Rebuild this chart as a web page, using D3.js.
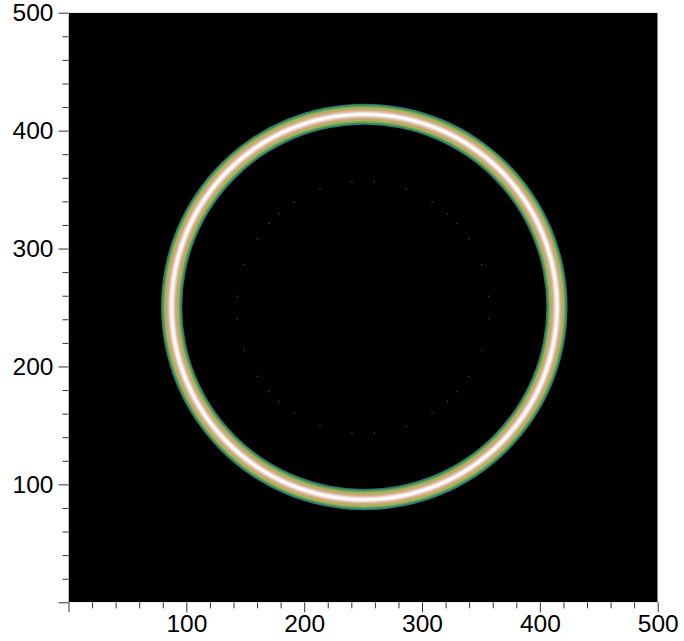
<!DOCTYPE html>
<html>
<head>
<meta charset="utf-8">
<script src="https://cdn.jsdelivr.net/npm/d3@7"></script>
<style>
  html, body { margin: 0; padding: 0; background: #fff; }
  svg { display: block; }
  .tick text { font-family: "Liberation Sans", Arial, Helvetica, sans-serif; font-size: 24.5px; fill: #000; }
</style>
</head>
<body>
<svg id="chart" width="684" height="641"></svg>
<script>
// ---- data ----
const xDomain = [0, 500];
const yDomain = [0, 500];
const majorTicks = [0, 100, 200, 300, 400, 500];
const tickLabels = ["", "100", "200", "300", "400", "500"];
const minorTicks = [20, 40, 60, 80, 120, 140, 160, 180, 220, 240, 260, 280, 320, 340, 360, 380, 420, 440, 460, 480];

// ring: centre and radial intensity profile (value 0..1 per 1-unit annulus)
const ringCenter = [251, 250.5];
const ringRadii  = [155, 156, 157, 158, 159, 160, 161, 162, 163, 164, 165, 166, 167, 168, 169, 170, 171, 172];
const ringValues = [0.25, 0.42, 0.55, 0.68, 0.76, 0.82, 0.88, 0.95, 1.0, 1.0, 0.95, 0.88, 0.82, 0.76, 0.68, 0.55, 0.42, 0.25];
const backgroundValue = 0;

// faint inner dots (polar angle in degrees, common radius)
const dotRadius = 107;
const dotValue = 0.2;
const dotCenter = [250, 250];
const dotAngles = [5.1, 19.9, 33.1, 41.8, 48, 56.8, 70, 84.9, 95.1, 110, 123.2, 132, 138.2, 146.9, 160.1, 174.9,
                   185.1, 199.9, 213.1, 221.8, 228, 236.8, 250, 264.9, 275.1, 290, 303.2, 312, 318.2, 326.9, 340.1, 354.9];

// colormap (gist_earth-like) stops
const cmapStops  = [0, 0.03, 0.11, 0.165, 0.208, 0.282, 0.459, 0.549, 0.698, 0.788, 0.894, 1.0];
const cmapColors = ["#000000", "#00006e", "#133073", "#1c4d75", "#236278", "#30807f", "#459a47", "#78a552",
                    "#b7b75e", "#c4a36c", "#e4c3b8", "#fdfbfb"];

// ---- layout ----
const margin = { left: 68.5, top: 12.7, right: 684 - 657.7, bottom: 641 - 602.3 };
const W = 684 - margin.left - margin.right;
const H = 641 - margin.top - margin.bottom;

const svg = d3.select("#chart");
const x = d3.scaleLinear().domain(xDomain).range([margin.left, margin.left + W]);
const y = d3.scaleLinear().domain(yDomain).range([margin.top + H, margin.top]);
const color = d3.scaleLinear().domain(cmapStops).range(cmapColors).interpolate(d3.interpolateRgb).clamp(true);

svg.append("defs").append("clipPath").attr("id", "clip")
  .append("rect").attr("x", x(0)).attr("y", y(500)).attr("width", x(500) - x(0)).attr("height", y(0) - y(500));

const plot = svg.append("g").attr("clip-path", "url(#clip)");
plot.append("rect")
  .attr("x", x(0)).attr("y", y(500))
  .attr("width", x(500) - x(0)).attr("height", y(0) - y(500))
  .attr("fill", color(backgroundValue));

const rx = d => x(d) - x(0);
// nested discs, outermost first, so annuli share edges without seams
const ringData = ringRadii.map((r, i) => ({ r: r + 0.5, v: ringValues[i] }))
  .concat([{ r: ringRadii[0] - 0.5, v: backgroundValue }])
  .sort((a, b) => b.r - a.r);
plot.append("g")
  .attr("transform", `translate(${x(ringCenter[0])},${y(ringCenter[1])})`)
  .selectAll("circle").data(ringData).join("circle")
  .attr("r", d => rx(d.r))
  .attr("fill", d => color(d.v));

plot.append("g").selectAll("rect").data(dotAngles).join("rect")
  .attr("x", a => x(dotCenter[0] + dotRadius * Math.cos(a * Math.PI / 180)) - 0.6)
  .attr("y", a => y(dotCenter[1] + dotRadius * Math.sin(a * Math.PI / 180)) - 0.6)
  .attr("width", 1.2).attr("height", 1.2)
  .attr("fill", color(dotValue));

// ---- axes ----
const tickColor = "#333";
function styleAxis(g) {
  g.select(".domain").remove();
  g.selectAll(".tick line").attr("stroke", tickColor);
}
const xMinor = svg.append("g").attr("transform", `translate(0,${y(0)})`)
  .call(d3.axisBottom(x).tickValues(minorTicks).tickSize(6).tickFormat(""));
styleAxis(xMinor);
const xMajor = svg.append("g").attr("transform", `translate(0,${y(0)})`)
  .call(d3.axisBottom(x).tickValues(majorTicks).tickSize(10).tickPadding(2)
    .tickFormat((d, i) => tickLabels[i]));
styleAxis(xMajor);

const yMinor = svg.append("g").attr("transform", `translate(${x(0)},0)`)
  .call(d3.axisLeft(y).tickValues(minorTicks).tickSize(6).tickFormat(""));
styleAxis(yMinor);
const yMajor = svg.append("g").attr("transform", `translate(${x(0)},0)`)
  .call(d3.axisLeft(y).tickValues(majorTicks).tickSize(10).tickPadding(5)
    .tickFormat((d, i) => tickLabels[i]));
styleAxis(yMajor);
svg.selectAll(".tick text").attr("font-family", null).attr("font-size", null);
</script>
</body>
</html>
